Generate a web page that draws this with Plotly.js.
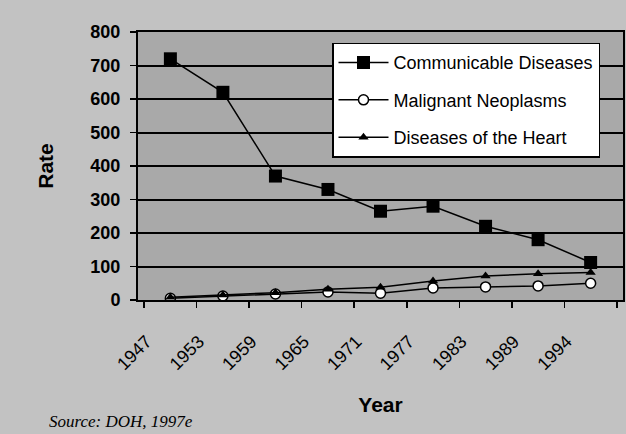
<!DOCTYPE html>
<html>
<head>
<meta charset="utf-8">
<script src="https://cdn.plot.ly/plotly-3.0.1.min.js"></script>
<style>html,body{margin:0;padding:0;background:#c2c2c2;}#chart{width:626px;height:434px;}</style>
</head>
<body>
<div id="chart"></div>
<script>
const years = ['1947','1953','1959','1965','1971','1977','1983','1989','1994'];
const communicable = [720, 620, 370, 330, 265, 280, 220, 180, 112];
const malignant = [5, 12, 18, 24, 20, 36, 39, 42, 50];
const heart = [8, 15, 22, 32, 38, 57, 72, 78, 82];
const seriesNames = ['Communicable Diseases', 'Malignant Neoplasms', 'Diseases of the Heart'];

const traces = [
  {x: years, y: communicable, name: seriesNames[0], mode: 'lines+markers', legendgroup: 'a',
   line: {color: '#000', width: 1.5}, marker: {symbol: 'square', size: 13, color: '#000'}},
  {x: years, y: malignant, name: seriesNames[1], mode: 'lines+markers', legendgroup: 'b',
   line: {color: '#000', width: 1.5}, marker: {symbol: 'circle', size: 10, color: '#fff', line: {color: '#000', width: 1.5}}},
  {x: years, y: heart, name: seriesNames[2], mode: 'lines+markers', legendgroup: 'c',
   line: {color: '#000', width: 1.5}, marker: {symbol: 'triangle-up', size: 9, color: '#000'}}
];

const layout = {
  width: 626, height: 434,
  margin: {l: 138, r: 3, t: 32, b: 134},
  paper_bgcolor: '#c2c2c2',
  plot_bgcolor: '#a9a9a9',
  font: {family: 'Arial, "Liberation Sans", sans-serif', color: '#000'},
  showlegend: true,
  legend: {x: 0.4, y: 0.96, xanchor: 'left', yanchor: 'top', bgcolor: '#fff', bordercolor: '#000', borderwidth: 1.5,
           font: {size: 18, color: '#000'}, tracegroupgap: 11, itemwidth: 50, traceorder: 'grouped'},
  xaxis: {
    type: 'category', tickangle: -45, tickson: 'boundaries', ticks: 'outside', ticklen: 6, tickcolor: '#000', tickwidth: 1.5,
    showline: true, linecolor: '#000', linewidth: 2, mirror: true, showgrid: false,
    tickfont: {size: 18, color: '#000'}, ticklabelshift: -24, ticklabelstandoff: 22,
    title: {text: '<b>Year</b>', font: {size: 21, color: '#000'}, standoff: 24}
  },
  yaxis: {
    range: [0, 800], dtick: 100, ticks: 'outside', ticklen: 6, tickcolor: '#000', tickwidth: 1.5,
    showline: true, linecolor: '#000', linewidth: 2, mirror: true,
    showgrid: true, gridcolor: '#000', gridwidth: 2, zeroline: false,
    tickfont: {size: 18, color: '#000', weight: 'bold'}, ticklabelstandoff: 6,
    title: {text: '<b>Rate</b>', font: {size: 21, color: '#000'}, standoff: 31}
  },
  annotations: [
    {text: '<i>Source: DOH, 1997e</i>', xref: 'paper', yref: 'paper', x: -0.187, y: -0.455, xanchor: 'left', yanchor: 'middle',
     showarrow: false, font: {family: '"Liberation Serif", "Times New Roman", serif', size: 17, color: '#000'}}
  ]
};

Plotly.newPlot('chart', traces, layout, {displayModeBar: false, staticPlot: true});
</script>
</body>
</html>
